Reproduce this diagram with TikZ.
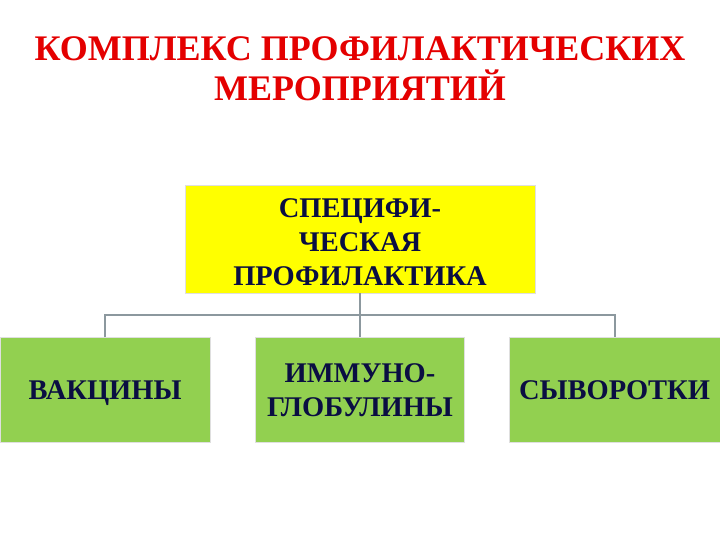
\documentclass[tikz,border=0pt]{standalone}
\usepackage{fontspec}
\setmainfont{Liberation Serif}
\definecolor{titlered}{RGB}{228,0,0}
\definecolor{boxyellow}{RGB}{255,255,0}
\definecolor{boxgreen}{RGB}{146,208,80}
\definecolor{boxtext}{RGB}{10,14,66}
\definecolor{linkgray}{RGB}{140,152,158}
\begin{document}
\begin{tikzpicture}[x=1pt,y=-1pt,
            box/.style = {draw=gray!25,
                inner sep=0pt,
                align=center,
                font=\fontsize{28.5}{34}\selectfont\bfseries,
                text=boxtext},
            link/.style = {draw=linkgray, line width=2pt}]

        \useasboundingbox (0,0) rectangle (720,540);

        % Title
        \node[text=titlered,align=center,
              font=\fontsize{36}{40}\selectfont\bfseries] (title) at (360,69)
            {КОМПЛЕКС ПРОФИЛАКТИЧЕСКИХ\\МЕРОПРИЯТИЙ};

        % Specific prophylaxis
        \node[box,fill=boxyellow,minimum width=350,minimum height=108] (spec) at (360,239)
            {\raisebox{-6pt}[\height][\depth]{\begin{tabular}{@{}c@{}}СПЕЦИФИ-\\ЧЕСКАЯ\\ПРОФИЛАКТИКА\end{tabular}}};

        % Lower boxes
        \node[box,fill=boxgreen,minimum width=210,minimum height=105,text depth=0pt] (vacc) at (105,390) {ВАКЦИНЫ};
        \node[box,fill=boxgreen,minimum width=209,minimum height=105] (immun) at (360,390) {ИММУНО-\\ГЛОБУЛИНЫ};
        \node[box,fill=boxgreen,minimum width=211,minimum height=105] (serum) at (614.5,390) {СЫВОРОТКИ};

        % Connectors
        \draw[link] (spec.south) -- ++(0,22) coordinate (hub);
        \draw[link] (vacc.north) |- (hub) -| (serum.north);
        \draw[link] (hub) -- (immun.north);

\end{tikzpicture}
\end{document}
